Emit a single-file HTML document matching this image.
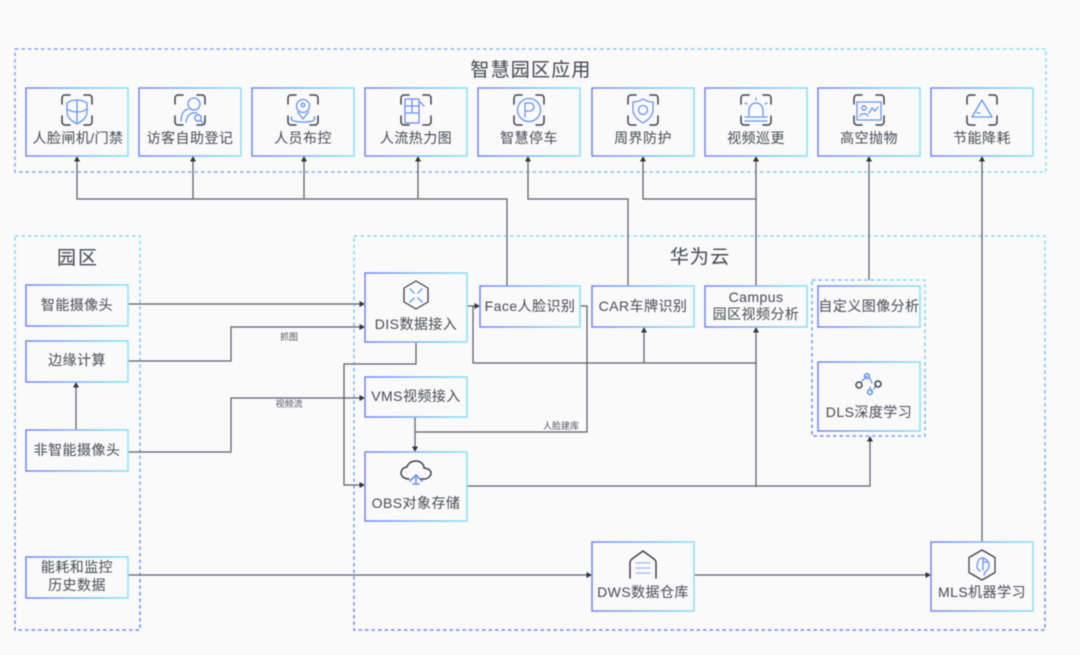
<!DOCTYPE html>
<html><head><meta charset="utf-8">
<style>
html,body{margin:0;padding:0;background:#fafafb;width:1080px;height:655px;overflow:hidden}
svg{display:block;filter:blur(.4px)}
text{font-family:"Liberation Sans","Noto Sans CJK SC",sans-serif;fill:#4d5159;text-anchor:middle}
.t{font-size:14px;letter-spacing:.45px;stroke:#4d5159;stroke-width:.06px}
.h{font-size:19px;letter-spacing:1.2px;fill:#484c54;stroke:#484c54;stroke-width:.08px}
.s{font-size:9px;fill:#53575f}
.b{fill:none;stroke:url(#gb);stroke-width:1.5}
.d{fill:none;stroke-width:1.5;stroke-dasharray:3.5 3}
.l{fill:none;stroke:#5c6068;stroke-width:1.25}
.a{fill:#30343b}
.k{fill:none;stroke:#3f434b;stroke-width:1.5;stroke-linecap:round;stroke-linejoin:round}
.i{fill:none;stroke:#6694f5;stroke-width:1.3;stroke-linejoin:round;stroke-linecap:round}
</style></head><body>
<svg width="1080" height="655" viewBox="0 0 1080 655" xmlns="http://www.w3.org/2000/svg">
<defs>
<linearGradient id="gb" x1="0" y1="0" x2="1" y2="0"><stop offset="0" stop-color="#7486f6"/><stop offset="1" stop-color="#86e2f3"/></linearGradient>
<linearGradient id="gd1" x1="0" y1="0" x2="1" y2="0"><stop offset="0" stop-color="#8c9cf6"/><stop offset="1" stop-color="#7fe0f4"/></linearGradient>
<linearGradient id="gd2" gradientUnits="userSpaceOnUse" x1="0" y1="236" x2="0" y2="630"><stop offset="0" stop-color="#7fe0f4"/><stop offset="1" stop-color="#7486f6"/></linearGradient>
<linearGradient id="gd3" x1="0" y1="1" x2="1" y2="0"><stop offset="0" stop-color="#7486f6"/><stop offset="1" stop-color="#7fe0f4"/></linearGradient>
<g id="br" class="k"><path d="M-7-15h-5a3 3 0 0 0-3 3v6M7-15h5a3 3 0 0 1 3 3v6M-7 15h-5a3 3 0 0 1-3-3v-6M7 15h5a3 3 0 0 0 3-3v-6"/></g>
</defs>

<!-- dashed groups -->
<rect x="15" y="49" width="1031" height="123" class="d" stroke="url(#gd1)"/>
<rect x="15" y="236" width="125" height="394" class="d" stroke="url(#gd2)"/>
<rect x="354" y="236" width="691" height="394" class="d" stroke="url(#gd2)"/>
<rect x="812" y="280" width="113" height="156" class="d" stroke="url(#gd3)"/>

<text x="531" y="76" class="h">智慧园区应用</text>
<text x="78" y="264" class="h" style="letter-spacing:2px">园区</text>
<text x="700" y="263" class="h">华为云</text>

<!-- connectors -->
<g class="l">
<path d="M77 161V199H507V286M193 161V199M304 161V199M418 161V199"/>
<path d="M628 286V199H528V161"/>
<path d="M756 199H643V161M756 161V286M756 332V487"/>
<path d="M869 161V280M982 161V542"/>
<path d="M128 304H360"/>
<path d="M128 361H231V327H360"/>
<path d="M128 452H231V398H360"/>
<path d="M76 430V387"/>
<path d="M416 342V364H344V485H360"/>
<path d="M467 306H475M473 306V363H756M644 363V332"/>
<path d="M580 306H587V432H415M415 417V447"/>
<path d="M467 486H870V441"/>
<path d="M128 575H587M694 575H926"/>
</g>
<g class="a">
<path d="M77 156l-3 5.500h6zM193 156l-3 5.500h6zM304 156l-3 5.500h6zM418 156l-3 5.500h6zM528 156l-3 5.500h6zM643 156l-3 5.500h6zM756 156l-3 5.500h6zM869 156l-3 5.500h6zM982 156l-3 5.500h6z"/>
<path d="M365 304l-5.500-3v6zM365 327l-5.500-3v6zM365 398l-5.500-3v6zM365 485l-5.500-3v6zM480 306l-5.500-3v6zM592 575l-5.500-3v6zM931 575l-5.500-3v6z"/>
<path d="M76 382l-3 5.500h6zM644 327l-3 5.500h6zM756 327l-3 5.500h6zM870 436l-3 5.500h6z"/>
<path d="M415 452l-3-5.500h6z"/>
</g>
<text x="289" y="340" class="s">抓图</text>
<text x="289" y="407" class="s">视频流</text>
<text x="561" y="429" class="s">人脸建库</text>

<!-- boxes -->
<g>
<rect x="26" y="88" width="102" height="68" class="b"/>
<rect x="139" y="88" width="102" height="68" class="b"/>
<rect x="252" y="88" width="102" height="68" class="b"/>
<rect x="365" y="88" width="102" height="68" class="b"/>
<rect x="478" y="88" width="102" height="68" class="b"/>
<rect x="592" y="88" width="102" height="68" class="b"/>
<rect x="705" y="88" width="102" height="68" class="b"/>
<rect x="818" y="88" width="102" height="68" class="b"/>
<rect x="931" y="88" width="102" height="68" class="b"/>
<rect x="26" y="285" width="102" height="41" class="b"/>
<rect x="26" y="341" width="102" height="41" class="b"/>
<rect x="26" y="430" width="102" height="41" class="b"/>
<rect x="26" y="557" width="102" height="41" class="b"/>
<rect x="365" y="273" width="102" height="69" class="b"/>
<rect x="365" y="377" width="102" height="40" class="b"/>
<rect x="365" y="452" width="102" height="69" class="b"/>
<rect x="480" y="286" width="100" height="41" class="b"/>
<rect x="592" y="286" width="102" height="41" class="b"/>
<rect x="705" y="286" width="102" height="41" class="b"/>
<rect x="818" y="286" width="102" height="41" class="b"/>
<rect x="818" y="362" width="102" height="69" class="b"/>
<rect x="592" y="542" width="102" height="69" class="b"/>
<rect x="931" y="542" width="102" height="69" class="b"/>
</g>

<!-- icon brackets -->
<use href="#br" x="77" y="110"/><use href="#br" x="190" y="110"/><use href="#br" x="303" y="110"/><use href="#br" x="416" y="110"/><use href="#br" x="529" y="110"/><use href="#br" x="643" y="110"/><use href="#br" x="756" y="110"/><use href="#br" x="869" y="110"/><use href="#br" x="982" y="110"/>

<!-- icon contents -->
<g class="i">
<path d="M67 103c6-4 14-4 20 0v9c0 6-5 9-10 12-5-3-10-6-10-12zM77 100v24M67 109c6 4 14 4 20 0"/>
<circle cx="194" cy="104" r="6"/><path d="M181 121c0-7 3-11 7-12M186 122c1-7 5-10 11-9"/><circle cx="198" cy="118" r="3.200"/><path d="M200.500 120.500l3 3"/>
<circle cx="303" cy="106" r="6.500"/><path d="M303 119l-5.500-7M303 119l5.500-7M292 117c-3 3 2 5 11 5s14-2 11-5"/><circle cx="303" cy="105" r="1.800"/>
<rect x="405" y="99" width="14" height="24" stroke="#7486f6"/><path d="M405 106h14M405 113h14M412 99v14M420 102l4 4"/>
<circle cx="529" cy="110" r="11.500"/><path d="M525 117v-14h5a4 4 0 0 1 0 8h-5"/>
<path d="M643 99c3 2 7 3 10 3v8c0 6-5 10-10 13-5-3-10-7-10-13v-8c3 0 7-1 10-3z"/><circle cx="643" cy="110" r="4.500"/>
<path d="M749 116v-6a7 7 0 0 1 14 0v6M745 117h22M745 121h22M756 98v2M745 103l2 1M767 103l-2 1"/>
<rect x="857" y="102" width="24" height="18"/><circle cx="864" cy="108" r="2.200"/><path d="M860 116c1-3 7-3 8 0M869 113l3-5 3 3 3-4"/>
<path d="M982 100l10 17h-20zM980 113h-3"/>
<path d="M410 289l4 4M422 289l-4 4M410 302l4-4M422 302l-4-4"/>
<path d="M416 484v-9M410 481l6-6 6 6M413 484h6" stroke-width="1.600"/>
<path d="M862 381l5-5M869 377l3 6M876 385l-2 4M871 391l-1-4" stroke-width="1.300"/>
<path d="M636 563h14M636 568h14M636 573h14" stroke="#a4b4f6"/>
<path d="M977 568c0-6 2-10 5-10s7 3 7 7c0 4-2 6-4 7l-1 3M983 558v12M988 562h-4M977 568l3 3"/>
</g>
<g class="k">
<path d="M416 281l12 7v14l-12 7-12-7v-14z" stroke-width="1.300"/>
<path d="M409 479c-5 0-8-3-8-6 0-3 3-6 6-6 1-4 5-6 9-6 4 0 8 3 8 7 3 0 7 2 7 5s-3 6-7 6h-3"/>
<path d="M630 578v-16c0-1 1-2 2-3l11-8 11 8c1 1 2 2 2 3v16"/>
<path d="M982 550l13 7.500v15l-13 7.500-13-7.500v-15z" stroke-width="1.300"/>
<circle cx="859" cy="385" r="3"/><circle cx="878" cy="384" r="3"/>
</g>
<g fill="none" stroke="#6694f5" stroke-width="1.500"><circle cx="867" cy="376" r="2.400"/><circle cx="870" cy="392" r="2.400"/></g>

<!-- labels -->
<text x="78" y="143" class="t">人脸闸机/门禁</text>
<text x="190" y="143" class="t">访客自助登记</text>
<text x="303" y="143" class="t">人员布控</text>
<text x="416" y="143" class="t">人流热力图</text>
<text x="529" y="143" class="t">智慧停车</text>
<text x="643" y="143" class="t">周界防护</text>
<text x="756" y="143" class="t">视频巡更</text>
<text x="869" y="143" class="t">高空抛物</text>
<text x="982" y="143" class="t">节能降耗</text>

<text x="77" y="310" class="t">智能摄像头</text>
<text x="77" y="365" class="t">边缘计算</text>
<text x="77" y="455" class="t">非智能摄像头</text>
<text x="77" y="572" class="t">能耗和监控</text>
<text x="77" y="590" class="t">历史数据</text>

<text x="416" y="329" class="t">DIS数据接入</text>
<text x="416" y="401" class="t">VMS视频接入</text>
<text x="416" y="508" class="t">OBS对象存储</text>
<text x="530" y="311" class="t">Face人脸识别</text>
<text x="643" y="311" class="t">CAR车牌识别</text>
<text x="756" y="302" class="t">Campus</text>
<text x="756" y="319" class="t">园区视频分析</text>
<text x="869" y="311" class="t">自定义图像分析</text>
<text x="869" y="417" class="t">DLS深度学习</text>
<text x="643" y="597" class="t">DWS数据仓库</text>
<text x="982" y="597" class="t">MLS机器学习</text>
</svg>
</body></html>
